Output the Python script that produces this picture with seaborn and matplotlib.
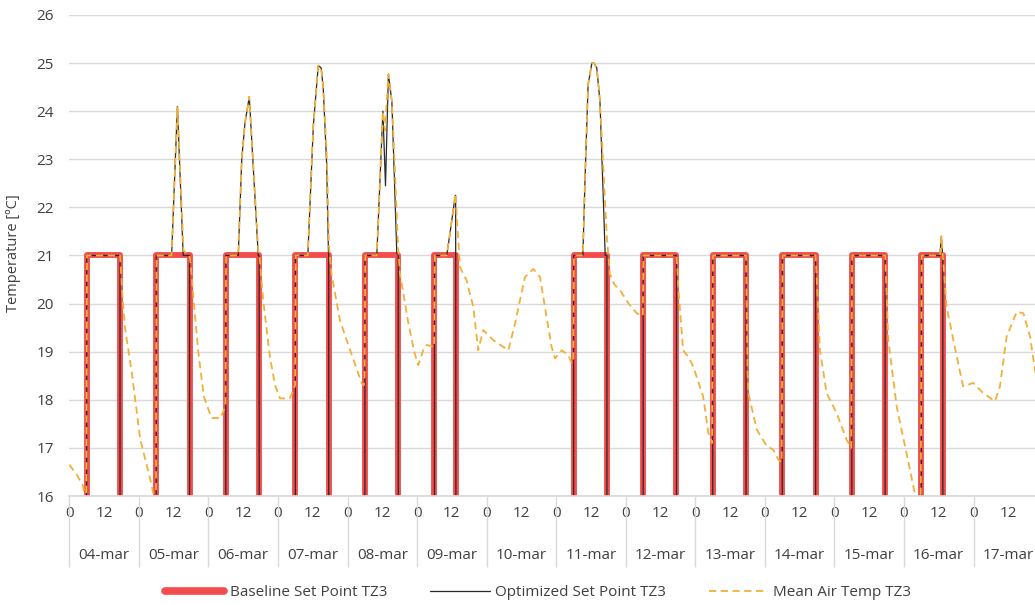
import matplotlib
matplotlib.use('Agg')
import matplotlib.pyplot as plt
import matplotlib.transforms as mtransforms
import numpy as np
import pandas as pd
import seaborn as sns

# days shown on the category axis
days = ['04-mar', '05-mar', '06-mar', '07-mar', '08-mar', '09-mar', '10-mar',
        '11-mar', '12-mar', '13-mar', '14-mar', '15-mar', '16-mar', '17-mar']
hour_ticks = [0, 12]

# baseline schedule (hours of the day), None = no heating (sunday)
occ_start = [6.0, 6.0, 6.0, 6.0, 6.0, 6.0, None, 6.0, 6.0, 6.0, 6.0, 6.0, 6.0, None]
occ_end = [17.5, 17.5, 17.5, 17.5, 17.5, 13.4, None, 17.5, 17.5, 17.5, 17.5, 17.5, 13.4, None]
set_on = 21.0
set_off = 15.0

# optimized set point (hours since 04-mar 0h, degC)
opt_t = [0, 6.0, 6.0, 17.5, 17.5,
         30.0, 30.0, 35.3, 37.3, 39.3, 41.5, 41.5,
         54.0, 54.0, 58.3, 59.5, 60.6, 62.1, 65.2, 65.5, 65.5,
         78.0, 78.0, 82.3, 84.2, 85.9, 86.9, 87.6, 88.8, 89.4, 89.5, 89.5,
         102.0, 102.0, 106.1, 108.2, 109.1, 110.1, 111.3, 113.0, 113.5, 113.5,
         126.0, 126.0, 130.2, 131.2, 133.2, 133.3, 133.4,
         174.0, 174.0, 177.2, 177.9, 179.0, 180.3, 181.0, 182.0, 183.1, 184.3, 184.9, 185.5, 185.5,
         198.0, 198.0, 209.5, 209.5,
         222.0, 222.0, 233.5, 233.5,
         246.0, 246.0, 257.5, 257.5,
         270.0, 270.0, 281.5, 281.5,
         294.0, 294.0, 300.4, 300.9, 301.3, 301.4, 301.4,
         336.0]
opt_v = [15, 15, 21, 21, 15,
         15, 21, 21, 24.1, 21, 21, 15,
         15, 21, 21, 23.0, 23.75, 24.3, 21, 21, 15,
         15, 21, 21, 23.7, 24.95, 24.9, 24.5, 22.9, 21.1, 21, 15,
         15, 21, 21, 24.0, 22.45, 24.77, 24.2, 21.05, 21, 15,
         15, 21, 21, 21.4, 22.25, 22.25, 15,
         15, 21, 21, 22.5, 24.55, 25.0, 25.0, 24.9, 24.2, 22.1, 21, 21, 15,
         15, 21, 21, 15,
         15, 21, 21, 15,
         15, 21, 21, 15,
         15, 21, 21, 15,
         15, 21, 21, 21.4, 21, 21, 15,
         15]

# mean air temperature
air_t = [0, 2.5, 4.8, 5.6, 5.9, 6.1, 17.5, 18.4, 19.2, 21.6, 24.5, 27.8, 29.0, 29.6, 29.9,
         30.1, 35.3, 37.3, 39.4, 41.5, 42.2, 42.9, 44.5, 46.4, 49.1, 52.2, 53.4, 53.9,
         54.1, 58.3, 59.5, 60.6, 62.1, 65.2, 65.6, 66.9, 69.2, 71.0, 72.7, 76.1, 77.3, 77.9,
         78.1, 82.3, 84.2, 85.9, 86.9, 87.6, 88.9, 89.6, 90.5, 93.4, 96.9, 100.9, 101.6, 101.9,
         102.1, 106.1, 108.2, 108.9, 110.1, 111.3, 112.2, 113.4, 114.1, 117.0, 119.0, 120.4,
         122.1, 123.3, 125.9,
         126.1, 130.2, 131.2, 133.2, 134.8, 137.1, 139.4, 141.1, 142.8, 146.3, 151.5, 153.8,
         157.2, 160.1, 162.4, 166.4, 167.6, 169.9, 172.2, 173.3, 173.9,
         174.1, 177.2, 177.9, 179.0, 180.3, 181.0, 182.0, 183.0, 183.7, 185.4, 186.5, 188.0,
         190.0, 193.0, 195.8, 197.9,
         198.1, 209.5, 210.3, 211.8, 213.5, 215.3, 218.7, 220.5, 221.8,
         222.1, 233.5, 234.0, 234.3, 237.2, 240.6, 242.9, 244.6, 245.8,
         246.1, 257.5, 258.3, 259.0, 261.3, 264.7, 268.2, 269.8,
         270.1, 281.5, 282.6, 285.5, 288.9, 291.8, 292.6, 293.8,
         294.1, 300.4, 300.9, 301.4, 302.7, 306.2, 308.4, 311.9, 315.3, 319.4, 321.1, 323.4,
         326.9, 329.2, 331.5, 333.2, 334.5]
air_v = [16.65, 16.45, 16.2, 15.8, 15.8, 21.0, 21.0, 20.1, 19.5, 18.55, 17.17, 16.38, 16.05, 15.8, 15.8,
         21.0, 21.0, 24.1, 21.1, 21.0, 20.6, 20.07, 19.0, 18.07, 17.62, 17.62, 17.8, 17.9,
         21.0, 21.0, 23.0, 23.75, 24.3, 21.1, 21.0, 20.07, 18.9, 18.3, 18.03, 18.03, 18.2, 18.3,
         21.0, 21.0, 23.7, 24.95, 24.9, 24.5, 23.0, 21.2, 20.6, 19.65, 19.03, 18.34, 18.3, 18.5,
         21.0, 21.0, 24.0, 23.6, 24.77, 24.2, 23.0, 21.2, 20.62, 19.59, 19.0, 18.72,
         19.03, 19.14, 19.1,
         21.0, 21.0, 21.4, 22.28, 20.76, 20.48, 19.93, 19.03, 19.45, 19.24, 19.03, 19.59,
         20.55, 20.72, 20.55, 19.1, 18.86, 19.03, 18.93, 18.76, 18.8,
         21.0, 21.0, 22.5, 24.55, 25.0, 25.0, 24.9, 24.3, 23.5, 21.45, 20.62, 20.4,
         20.28, 20.0, 19.8, 19.75,
         21.0, 21.0, 20.2, 19.03, 18.9, 18.69, 18.07, 17.31, 17.1,
         21.0, 21.0, 18.6, 18.14, 17.38, 17.04, 16.96, 16.76, 16.7,
         21.0, 21.0, 20.0, 19.03, 18.14, 17.73, 17.17, 17.0,
         21.0, 21.0, 19.24, 17.85, 16.88, 16.04, 15.8, 15.8,
         21.0, 21.0, 21.4, 21.0, 19.93, 18.9, 18.28, 18.35, 18.14, 17.97, 18.28, 19.31,
         19.83, 19.8, 19.31, 18.62, 18.2]

# build the baseline step line from the schedule
base_t, base_v = [0.0], [set_off]
for d, (a, b) in enumerate(zip(occ_start, occ_end)):
    if a is None:
        continue
    base_t += [24 * d + a, 24 * d + a, 24 * d + b, 24 * d + b]
    base_v += [set_off, set_on, set_on, set_off]
base_t.append(24.0 * len(days))
base_v.append(set_off)

df_base = pd.DataFrame({'t': base_t, 'v': base_v})
df_opt = pd.DataFrame({'t': opt_t, 'v': opt_v})
df_air = pd.DataFrame({'t': air_t, 'v': air_v})

sns.set_theme(style='white')
plt.rcParams['font.family'] = ['Open Sans', 'DejaVu Sans']
txt_col = '#404040'
grid_col = '#d9d9d9'

fig = plt.figure(figsize=(10.35, 6.05), dpi=100)
ax = fig.add_axes([69.3 / 1035, 109 / 605, (1035 - 69.3) / 1035, 481 / 605])

sns.lineplot(data=df_base, x='t', y='v', estimator=None, sort=False, ax=ax,
             color='#f44b4b', linewidth=4.2, solid_joinstyle='round',
             label='Baseline Set Point TZ3')
sns.lineplot(data=df_opt, x='t', y='v', estimator=None, sort=False, ax=ax,
             color='#2a2a2a', linewidth=0.9, label='Optimized Set Point TZ3')
sns.lineplot(data=df_air, x='t', y='v', estimator=None, sort=False, ax=ax,
             color='#f2b03a', linewidth=1.3, linestyle=(0, (4, 2.5)),
             label='Mean Air Temp TZ3')

ax.set_ylim(16, 26)
ax.set_yticks(range(16, 27))
ax.set_xlim(0, 333.2)
ax.yaxis.grid(True, color=grid_col, linewidth=1)
ax.xaxis.grid(False)
for s in ['left', 'top', 'right']:
    ax.spines[s].set_visible(False)
ax.spines['bottom'].set_color(grid_col)

# hour ticks and day separators
xt = [24 * d + h for d in range(len(days)) for h in hour_ticks]
ax.set_xticks(xt)
ax.set_xticklabels([str(h) for d in range(len(days)) for h in hour_ticks])
ax.set_xticks([24 * d for d in range(len(days))], minor=True)
ax.xaxis.remove_overlapping_locs = False
ax.tick_params(axis='x', which='both', bottom=True)
ax.tick_params(axis='x', which='major', length=0, pad=7, labelsize=11, labelcolor=txt_col)
ax.tick_params(axis='x', which='minor', length=51, width=1, color=grid_col, direction='out')
ax.tick_params(axis='y', length=0, pad=11, labelsize=11, labelcolor=txt_col)

trans = mtransforms.blended_transform_factory(ax.transData, ax.transAxes)
for d, name in enumerate(days):
    ax.text(24 * d + 12, -0.124, name, transform=trans, ha='center', va='center',
            fontsize=11, color=txt_col, clip_on=False)

ax.set_xlabel('')
ax.set_ylabel('Temperature [ºC]', fontsize=10.5, color=txt_col)
ax.yaxis.set_label_coords(-0.05, 0.505)

leg = ax.legend(loc='center', bbox_to_anchor=(0.52, 0.02), bbox_transform=fig.transFigure,
                ncol=3, frameon=False, handlelength=3.9, handletextpad=0.35,
                columnspacing=2.8, fontsize=11)
for t in leg.get_texts():
    t.set_color(txt_col)
leg.get_lines()[0].set_linewidth(5.5)

fig.savefig('out.png', dpi=100)
